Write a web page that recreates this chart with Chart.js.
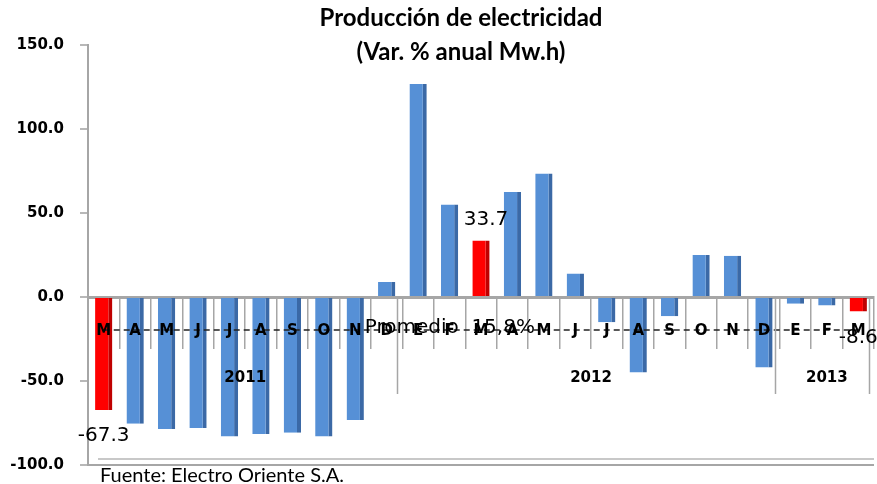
<!DOCTYPE html>
<html>
<head>
<meta charset="utf-8">
<script src="https://cdn.jsdelivr.net/npm/chart.js@4/dist/chart.umd.min.js"></script>
<style>
html,body{margin:0;padding:0;background:#fff;}
#wrap{position:relative;width:877px;height:484px;}
</style>
</head>
<body>
<div id="wrap"><canvas id="c" width="877" height="484"></canvas></div>
<script>
// ---- data ----
const monthLabels = ['M','A','M','J','J','A','S','O','N','D','E','F','M','A','M','J','J','A','S','O','N','D','E','F','M'];
const variacion = [-67.3,-75.5,-78.5,-78,-83,-81.5,-80.8,-83,-73.2,9,126.8,55,33.7,62.5,73.5,14,-15,-45,-11.5,25,24.5,-42,-4,-5,-8.6];
const yearLabels = ['2011','2012','2013'];
const yearMonthCounts = [10,12,3];
const highlightIdx = [0,12,24];
const yTicks = [-100,-50,0,50,100,150];
const titleLines = ['Producción de electricidad','(Var. % anual Mw.h)'];
const promedioText = 'Promedio  15,8%';
const sourceText = 'Fuente: Electro Oriente S.A.';

const BLUE = '#5690D6', BLUE_SIDE = '#3B69A6';
const RED = '#FF0000', RED_SIDE = '#BF0000';

const isHi = i => highlightIdx.includes(i);

const decor = {
  id: 'decor',
  afterDatasetsDraw(chart) {
    const ctx = chart.ctx, x = chart.scales.x, y = chart.scales.y;
    const z = y.getPixelForValue(0);
    // dashed line through category labels
    ctx.save();
    ctx.strokeStyle = '#222';
    ctx.lineWidth = 1.5;
    ctx.setLineDash([6,4]);
    ctx.beginPath();
    ctx.moveTo(x.getPixelForValue(0), Math.round(z + 33));
    ctx.lineTo(x.getPixelForValue(monthLabels.length - 1), Math.round(z + 33));
    ctx.stroke();
    ctx.restore();
  },
  afterDraw(chart) {
    const ctx = chart.ctx, x = chart.scales.x, y = chart.scales.y;
    const a = chart.chartArea;
    const z = y.getPixelForValue(0);
    const step = x.getPixelForValue(1) - x.getPixelForValue(0);
    ctx.save();
    // year separators and labels
    let start = 0;
    ctx.strokeStyle = '#a6a6a6';
    ctx.lineWidth = 1.5;
    ctx.fillStyle = '#000';
    ctx.font = 'bold 15px "DejaVu Sans"';
    ctx.textAlign = 'center';
    ctx.textBaseline = 'middle';
    yearLabels.forEach((lab, k) => {
      const n = yearMonthCounts[k];
      const left = x.getPixelForValue(start) - step / 2;
      const right = x.getPixelForValue(start + n - 1) + step / 2;
      ctx.beginPath();
      ctx.moveTo(Math.round(right) - 4.5, z + 1);
      ctx.lineTo(Math.round(right) - 4.5, z + 97);
      ctx.stroke();
      ctx.fillText(lab, (left + right) / 2, z + 81);
      start += n;
    });
    // floor line at bottom
    ctx.strokeStyle = '#c8c8c8';
    ctx.lineWidth = 2;
    ctx.beginPath();
    ctx.moveTo(a.left + 10, a.bottom - 6);
    ctx.lineTo(a.right, a.bottom - 6);
    ctx.stroke();
    // data labels for highlighted bars
    const meta = chart.getDatasetMeta(0);
    ctx.font = '20px "DejaVu Sans"';
    ctx.fillStyle = '#000';
    highlightIdx.forEach(i => {
      const el = meta.data[i];
      const v = variacion[i];
      const ty = v < 0 ? el.y + 26 : el.y - 21;
      ctx.fillText(v.toFixed(1), el.x + (v < 0 ? 0 : 5), ty);
    });
    // promedio text
    ctx.textAlign = 'left';
    ctx.fillText(promedioText, x.getPixelForValue(9) - 22, z + 31);
    // title
    ctx.font = 'bold 24px Lato';
    ctx.textAlign = 'center';
    ctx.fillText(titleLines[0], 461, 18);
    ctx.fillText(titleLines[1], 461, 52);
    // source
    ctx.font = '20px Lato';
    ctx.textAlign = 'left';
    ctx.fillText(sourceText, 100, 476);
    ctx.restore();
  }
};

new Chart(document.getElementById('c'), {
  type: 'bar',
  data: {
    labels: monthLabels,
    datasets: [{
      data: variacion,
      backgroundColor: variacion.map((v, i) => isHi(i) ? RED : BLUE),
      borderColor: variacion.map((v, i) => isHi(i) ? RED_SIDE : BLUE_SIDE),
      borderWidth: {left: 0, right: 4, top: 0, bottom: 0},
      borderSkipped: false,
      barPercentage: 0.55,
      categoryPercentage: 1.0
    }]
  },
  options: {
    responsive: false,
    animation: false,
    devicePixelRatio: 1,
    layout: {padding: {top: 45, bottom: 19, left: 0, right: 3}},
    plugins: {legend: {display: false}, tooltip: {enabled: false}, title: {display: false}},
    scales: {
      x: {
        position: {y: 0},
        offset: true,
        grid: {display: true, drawOnChartArea: false, drawTicks: true, tickLength: 50, offset: true, color: '#a6a6a6', lineWidth: 1.5},
        border: {display: true, color: '#a6a6a6', width: 3},
        ticks: {z: 1, autoSkip: false, maxRotation: 0, minRotation: 0, padding: -25, color: '#000', font: {family: 'DejaVu Sans', weight: 'bold', size: 15}},
        afterFit: s => { s.height = 0; s.paddingLeft = 0; s.paddingRight = 0; }
      },
      y: {
        min: -100, max: 150,
        afterBuildTicks: s => { s.ticks = yTicks.map(v => ({value: v})); },
        grid: {drawOnChartArea: true, tickLength: 8, tickColor: '#a0a0a0', tickWidth: 1.5,
               color: c => (c.tick && c.tick.value === -100) ? '#a6a6a6' : 'rgba(0,0,0,0)', lineWidth: 2},
        border: {display: true, color: '#a6a6a6', width: 2},
        ticks: {padding: 16, color: '#000', font: {family: 'DejaVu Sans', weight: 'bold', size: 15}, callback: v => Number(v).toFixed(1)},
        afterFit: s => { s.width = 88; s.paddingTop = 0; s.paddingBottom = 0; }
      }
    }
  },
  plugins: [decor]
});
</script>
</body>
</html>
